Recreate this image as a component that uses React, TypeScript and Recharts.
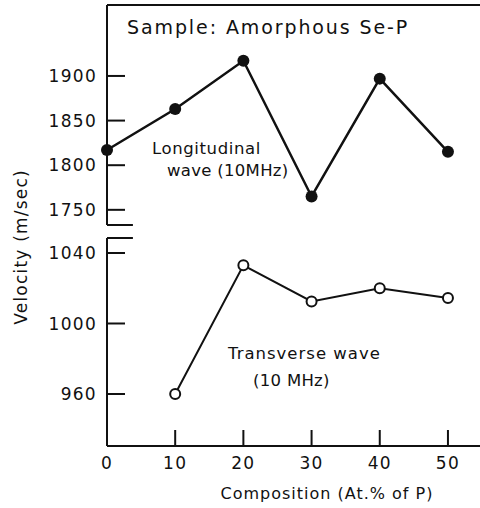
import { LineChart, Line, XAxis, YAxis, ReferenceLine } from 'recharts'

// composition (At.% of P)
const composition = [0, 10, 20, 30, 40, 50]
const longitudinal = [1817, 1863, 1917, 1765, 1897, 1815]
const transverseComposition = [10, 20, 30, 40, 50]
const transverse = [960, 1033, 1012.5, 1020, 1014.5]

const xTicks = [0, 10, 20, 30, 40, 50]
const topTicks = [1750, 1800, 1850, 1900]
const bottomTicks = [960, 1000, 1040]

const xDomain = [0, 54.7]
const topDomain = [1733, 1979.5]
const bottomDomain = [930.5, 1048.5]

const FONT = '"DejaVu Sans", sans-serif'
const INK = '#111'

const topData = composition.map((x, i) => ({ x, v: longitudinal[i] }))
const bottomData = transverseComposition.map((x, i) => ({ x, v: transverse[i] }))

const YTick = (props: any) => {
  const { x, y, payload } = props
  return (
    <g>
      <line x1={x + 10} x2={x + 28} y1={y} y2={y} stroke={INK} strokeWidth={2} />
      <text x={x} y={y} dy="0.36em" textAnchor="end" fontFamily={FONT} fontSize={17} letterSpacing={1.3} fill={INK}>
        {payload.value}
      </text>
    </g>
  )
}

const XTick = (props: any) => {
  const { x, y, payload } = props
  return (
    <g>
      {payload.value !== 0 && <line x1={x} x2={x} y1={y - 10} y2={y - 26} stroke={INK} strokeWidth={2} />}
      <text x={x} y={y} dy="0.75em" textAnchor="middle" fontFamily={FONT} fontSize={17} letterSpacing={1.3} fill={INK}>
        {payload.value}
      </text>
    </g>
  )
}

const FilledDot = (props: any) => <circle cx={props.cx} cy={props.cy} r={6} fill={INK} />
const OpenDot = (props: any) => <circle cx={props.cx} cy={props.cy} r={5} fill="#fff" stroke={INK} strokeWidth={2} />

export default function App() {
  return (
    <div style={{ position: 'absolute', left: 0, top: 0, width: 480, height: 508, background: '#fff' }}>
      <div style={{ position: 'absolute', left: 0, top: 0 }}>
        <LineChart width={480} height={230} data={topData} margin={{ top: 5, right: 0, bottom: 5, left: 0 }}>
          <XAxis dataKey="x" type="number" domain={xDomain} hide />
          <YAxis
            type="number"
            domain={topDomain}
            ticks={topTicks}
            interval={0}
            width={107}
            tickSize={0}
            tickMargin={10}
            tick={<YTick />}
            axisLine={{ stroke: INK, strokeWidth: 2 }}
            allowDataOverflow
          />
          <ReferenceLine y={topDomain[1]} stroke={INK} strokeWidth={2} />
          <ReferenceLine
            segment={[{ x: 0, y: topDomain[0] }, { x: 3.8, y: topDomain[0] }]}
            stroke={INK}
            strokeWidth={2}
          />
          <Line
            dataKey="v"
            stroke={INK}
            strokeWidth={2.5}
            dot={<FilledDot />}
            isAnimationActive={false}
          />
        </LineChart>
      </div>
      <div style={{ position: 'absolute', left: 0, top: 233 }}>
        <LineChart width={480} height={270} data={bottomData} margin={{ top: 5, right: 0, bottom: 0, left: 0 }}>
          <XAxis
            dataKey="x"
            type="number"
            domain={xDomain}
            ticks={xTicks}
            interval={0}
            height={57}
            tickSize={0}
            tickMargin={10}
            tick={<XTick />}
            axisLine={{ stroke: INK, strokeWidth: 2 }}
            allowDataOverflow
          />
          <YAxis
            type="number"
            domain={bottomDomain}
            ticks={bottomTicks}
            interval={0}
            width={107}
            tickSize={0}
            tickMargin={10}
            tick={<YTick />}
            axisLine={{ stroke: INK, strokeWidth: 2 }}
            allowDataOverflow
          />
          <ReferenceLine
            segment={[{ x: 0, y: bottomDomain[1] }, { x: 3.8, y: bottomDomain[1] }]}
            stroke={INK}
            strokeWidth={2}
          />
          <Line
            dataKey="v"
            stroke={INK}
            strokeWidth={2}
            dot={<OpenDot />}
            isAnimationActive={false}
          />
        </LineChart>
      </div>
      <svg width={480} height={508} style={{ position: 'absolute', left: 0, top: 0, pointerEvents: 'none' }}>
        <g fontFamily={FONT} fill={INK}>
          <text x={127} y={27} dy="0.36em" fontSize={19} letterSpacing={1.9}>Sample: Amorphous Se-P</text>
          <text x={152} y={148} dy="0.36em" fontSize={16.5} letterSpacing={0.6}>Longitudinal</text>
          <text x={167} y={170} dy="0.36em" fontSize={16.5} letterSpacing={0.3}>wave (10MHz)</text>
          <text x={228} y={353} dy="0.36em" fontSize={16.5} letterSpacing={1}>Transverse wave</text>
          <text x={253} y={380} dy="0.36em" fontSize={16.5} letterSpacing={0.3}>(10 MHz)</text>
          <text x={327} y={493} dy="0.36em" textAnchor="middle" fontSize={16} letterSpacing={1}>Composition (At.% of P)</text>
          <text x={21} y={247} dy="0.36em" textAnchor="middle" fontSize={17} letterSpacing={1.2} transform="rotate(-90 21 247)">Velocity (m/sec)</text>
        </g>
      </svg>
    </div>
  )
}
